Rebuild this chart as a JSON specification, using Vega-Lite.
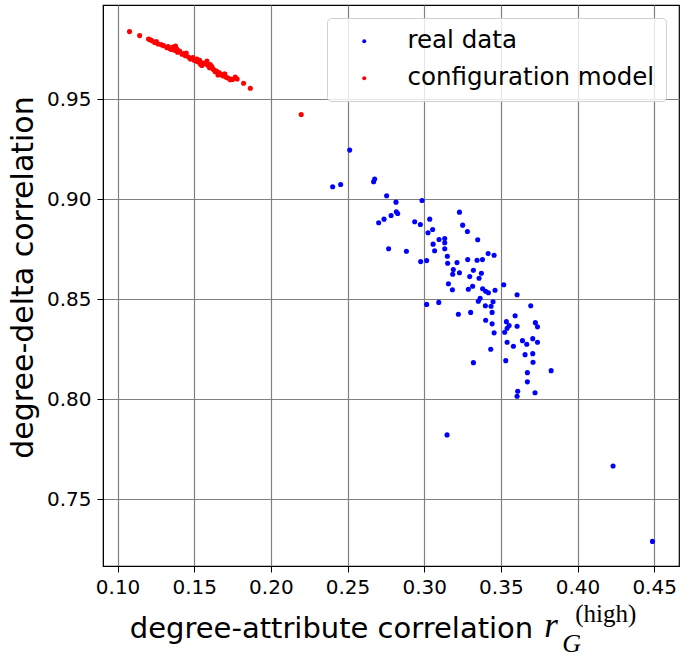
{
  "$schema": "https://vega.github.io/schema/vega-lite/v6.json",
  "width": 576,
  "height": 561,
  "autosize": {"type": "none"},
  "padding": {"left": 103, "top": 5, "right": 6, "bottom": 92},
  "background": "white",
  "config": {
    "view": {"stroke": "#000", "strokeWidth": 1.2},
    "font": "DejaVu Sans"
  },
  "datasets": {
    "points": [
      {"series": "real data", "x": 0.2514, "y": 0.9245},
      {"series": "real data", "x": 0.2403, "y": 0.9062},
      {"series": "real data", "x": 0.2455, "y": 0.9073},
      {"series": "real data", "x": 0.2670, "y": 0.9087},
      {"series": "real data", "x": 0.2677, "y": 0.9100},
      {"series": "real data", "x": 0.2755, "y": 0.9017},
      {"series": "real data", "x": 0.2816, "y": 0.8985},
      {"series": "real data", "x": 0.2986, "y": 0.8993},
      {"series": "real data", "x": 0.2703, "y": 0.8882},
      {"series": "real data", "x": 0.2738, "y": 0.8900},
      {"series": "real data", "x": 0.2784, "y": 0.8918},
      {"series": "real data", "x": 0.2818, "y": 0.8937},
      {"series": "real data", "x": 0.2827, "y": 0.8928},
      {"series": "real data", "x": 0.2938, "y": 0.8887},
      {"series": "real data", "x": 0.2975, "y": 0.8873},
      {"series": "real data", "x": 0.3025, "y": 0.8832},
      {"series": "real data", "x": 0.3036, "y": 0.8900},
      {"series": "real data", "x": 0.2768, "y": 0.8752},
      {"series": "real data", "x": 0.2884, "y": 0.8740},
      {"series": "real data", "x": 0.2977, "y": 0.8688},
      {"series": "real data", "x": 0.3016, "y": 0.8693},
      {"series": "real data", "x": 0.3055, "y": 0.8848},
      {"series": "real data", "x": 0.3230, "y": 0.8935},
      {"series": "real data", "x": 0.3251, "y": 0.8870},
      {"series": "real data", "x": 0.3282, "y": 0.8838},
      {"series": "real data", "x": 0.3097, "y": 0.8798},
      {"series": "real data", "x": 0.3134, "y": 0.8803},
      {"series": "real data", "x": 0.3134, "y": 0.8782},
      {"series": "real data", "x": 0.3058, "y": 0.8775},
      {"series": "real data", "x": 0.3068, "y": 0.8742},
      {"series": "real data", "x": 0.3134, "y": 0.8752},
      {"series": "real data", "x": 0.3349, "y": 0.8797},
      {"series": "real data", "x": 0.3151, "y": 0.8715},
      {"series": "real data", "x": 0.3153, "y": 0.8680},
      {"series": "real data", "x": 0.3214, "y": 0.8683},
      {"series": "real data", "x": 0.3284, "y": 0.8698},
      {"series": "real data", "x": 0.3345, "y": 0.8695},
      {"series": "real data", "x": 0.3380, "y": 0.8698},
      {"series": "real data", "x": 0.3417, "y": 0.8728},
      {"series": "real data", "x": 0.3456, "y": 0.8720},
      {"series": "real data", "x": 0.3190, "y": 0.8648},
      {"series": "real data", "x": 0.3186, "y": 0.8625},
      {"series": "real data", "x": 0.3230, "y": 0.8632},
      {"series": "real data", "x": 0.3321, "y": 0.8645},
      {"series": "real data", "x": 0.3373, "y": 0.8630},
      {"series": "real data", "x": 0.3297, "y": 0.8613},
      {"series": "real data", "x": 0.3358, "y": 0.8605},
      {"series": "real data", "x": 0.3158, "y": 0.8577},
      {"series": "real data", "x": 0.3184, "y": 0.8547},
      {"series": "real data", "x": 0.3288, "y": 0.8550},
      {"series": "real data", "x": 0.3316, "y": 0.8565},
      {"series": "real data", "x": 0.3381, "y": 0.8552},
      {"series": "real data", "x": 0.3401, "y": 0.8540},
      {"series": "real data", "x": 0.3419, "y": 0.8532},
      {"series": "real data", "x": 0.3462, "y": 0.8545},
      {"series": "real data", "x": 0.3519, "y": 0.8572},
      {"series": "real data", "x": 0.3606, "y": 0.8522},
      {"series": "real data", "x": 0.3365, "y": 0.8505},
      {"series": "real data", "x": 0.3353, "y": 0.8490},
      {"series": "real data", "x": 0.3449, "y": 0.8487},
      {"series": "real data", "x": 0.3399, "y": 0.8467},
      {"series": "real data", "x": 0.3436, "y": 0.8465},
      {"series": "real data", "x": 0.3016, "y": 0.8474},
      {"series": "real data", "x": 0.3095, "y": 0.8484},
      {"series": "real data", "x": 0.3695, "y": 0.8467},
      {"series": "real data", "x": 0.3223, "y": 0.8425},
      {"series": "real data", "x": 0.3303, "y": 0.8434},
      {"series": "real data", "x": 0.3443, "y": 0.8434},
      {"series": "real data", "x": 0.3401, "y": 0.8395},
      {"series": "real data", "x": 0.3593, "y": 0.8417},
      {"series": "real data", "x": 0.3443, "y": 0.8377},
      {"series": "real data", "x": 0.3536, "y": 0.8388},
      {"series": "real data", "x": 0.3554, "y": 0.8369},
      {"series": "real data", "x": 0.3541, "y": 0.8355},
      {"series": "real data", "x": 0.3606, "y": 0.8365},
      {"series": "real data", "x": 0.3725, "y": 0.8383},
      {"series": "real data", "x": 0.3739, "y": 0.8362},
      {"series": "real data", "x": 0.3525, "y": 0.8335},
      {"series": "real data", "x": 0.3456, "y": 0.8332},
      {"series": "real data", "x": 0.3541, "y": 0.8285},
      {"series": "real data", "x": 0.3582, "y": 0.8265},
      {"series": "real data", "x": 0.3641, "y": 0.8293},
      {"series": "real data", "x": 0.3669, "y": 0.8275},
      {"series": "real data", "x": 0.3708, "y": 0.8303},
      {"series": "real data", "x": 0.3739, "y": 0.8285},
      {"series": "real data", "x": 0.3434, "y": 0.8250},
      {"series": "real data", "x": 0.3658, "y": 0.8223},
      {"series": "real data", "x": 0.3708, "y": 0.8228},
      {"series": "real data", "x": 0.3321, "y": 0.8183},
      {"series": "real data", "x": 0.3532, "y": 0.8193},
      {"series": "real data", "x": 0.3710, "y": 0.8185},
      {"series": "real data", "x": 0.3828, "y": 0.8143},
      {"series": "real data", "x": 0.3673, "y": 0.8133},
      {"series": "real data", "x": 0.3673, "y": 0.8087},
      {"series": "real data", "x": 0.3610, "y": 0.8040},
      {"series": "real data", "x": 0.3606, "y": 0.8015},
      {"series": "real data", "x": 0.3723, "y": 0.8033},
      {"series": "real data", "x": 0.3149, "y": 0.7822},
      {"series": "real data", "x": 0.4232, "y": 0.7667},
      {"series": "real data", "x": 0.4489, "y": 0.7290},
      {"series": "configuration model", "x": 0.1078, "y": 0.9837},
      {"series": "configuration model", "x": 0.1144, "y": 0.9817},
      {"series": "configuration model", "x": 0.1202, "y": 0.9800},
      {"series": "configuration model", "x": 0.1224, "y": 0.9792},
      {"series": "configuration model", "x": 0.1210, "y": 0.9797},
      {"series": "configuration model", "x": 0.1242, "y": 0.9783},
      {"series": "configuration model", "x": 0.1253, "y": 0.9787},
      {"series": "configuration model", "x": 0.1264, "y": 0.9775},
      {"series": "configuration model", "x": 0.1285, "y": 0.9772},
      {"series": "configuration model", "x": 0.1300, "y": 0.9767},
      {"series": "configuration model", "x": 0.1322, "y": 0.9757},
      {"series": "configuration model", "x": 0.1330, "y": 0.9762},
      {"series": "configuration model", "x": 0.1344, "y": 0.9750},
      {"series": "configuration model", "x": 0.1355, "y": 0.9748},
      {"series": "configuration model", "x": 0.1361, "y": 0.9760},
      {"series": "configuration model", "x": 0.1372, "y": 0.9744},
      {"series": "configuration model", "x": 0.1378, "y": 0.9765},
      {"series": "configuration model", "x": 0.1387, "y": 0.9750},
      {"series": "configuration model", "x": 0.1391, "y": 0.9734},
      {"series": "configuration model", "x": 0.1405, "y": 0.9740},
      {"series": "configuration model", "x": 0.1420, "y": 0.9724},
      {"series": "configuration model", "x": 0.1430, "y": 0.9728},
      {"series": "configuration model", "x": 0.1442, "y": 0.9717},
      {"series": "configuration model", "x": 0.1448, "y": 0.9730},
      {"series": "configuration model", "x": 0.1463, "y": 0.9710},
      {"series": "configuration model", "x": 0.1475, "y": 0.9700},
      {"series": "configuration model", "x": 0.1481, "y": 0.9704},
      {"series": "configuration model", "x": 0.1492, "y": 0.9708},
      {"series": "configuration model", "x": 0.1500, "y": 0.9694},
      {"series": "configuration model", "x": 0.1510, "y": 0.9692},
      {"series": "configuration model", "x": 0.1518, "y": 0.9700},
      {"series": "configuration model", "x": 0.1522, "y": 0.9687},
      {"series": "configuration model", "x": 0.1535, "y": 0.9694},
      {"series": "configuration model", "x": 0.1540, "y": 0.9674},
      {"series": "configuration model", "x": 0.1545, "y": 0.9682},
      {"series": "configuration model", "x": 0.1550, "y": 0.9668},
      {"series": "configuration model", "x": 0.1561, "y": 0.9679},
      {"series": "configuration model", "x": 0.1570, "y": 0.9676},
      {"series": "configuration model", "x": 0.1583, "y": 0.9690},
      {"series": "configuration model", "x": 0.1587, "y": 0.9670},
      {"series": "configuration model", "x": 0.1595, "y": 0.9665},
      {"series": "configuration model", "x": 0.1600, "y": 0.9657},
      {"series": "configuration model", "x": 0.1605, "y": 0.9672},
      {"series": "configuration model", "x": 0.1615, "y": 0.9662},
      {"series": "configuration model", "x": 0.1622, "y": 0.9650},
      {"series": "configuration model", "x": 0.1630, "y": 0.9645},
      {"series": "configuration model", "x": 0.1637, "y": 0.9637},
      {"series": "configuration model", "x": 0.1645, "y": 0.9640},
      {"series": "configuration model", "x": 0.1655, "y": 0.9620},
      {"series": "configuration model", "x": 0.1659, "y": 0.9633},
      {"series": "configuration model", "x": 0.1665, "y": 0.9630},
      {"series": "configuration model", "x": 0.1681, "y": 0.9620},
      {"series": "configuration model", "x": 0.1690, "y": 0.9615},
      {"series": "configuration model", "x": 0.1696, "y": 0.9625},
      {"series": "configuration model", "x": 0.1700, "y": 0.9625},
      {"series": "configuration model", "x": 0.1709, "y": 0.9609},
      {"series": "configuration model", "x": 0.1720, "y": 0.9605},
      {"series": "configuration model", "x": 0.1735, "y": 0.9597},
      {"series": "configuration model", "x": 0.1740, "y": 0.9600},
      {"series": "configuration model", "x": 0.1750, "y": 0.9598},
      {"series": "configuration model", "x": 0.1768, "y": 0.9610},
      {"series": "configuration model", "x": 0.1780, "y": 0.9600},
      {"series": "configuration model", "x": 0.1822, "y": 0.9579},
      {"series": "configuration model", "x": 0.1866, "y": 0.9554},
      {"series": "configuration model", "x": 0.2198, "y": 0.9423}
    ]
  },
  "layer": [
    {
      "data": {"name": "points"},
      "mark": {"type": "circle", "size": 26, "opacity": 1},
      "encoding": {
        "x": {
          "field": "x",
          "type": "quantitative",
          "scale": {"domain": [0.0905, 0.4662], "nice": false, "zero": false},
          "axis": {
            "values": [0.1, 0.15, 0.2, 0.25, 0.3, 0.35, 0.4, 0.45],
            "format": ".2f",
            "title": "degree-attribute correlation",
            "titleFont": "DejaVu Sans",
            "titleFontSize": 29,
            "titleFontWeight": "normal",
            "titleColor": "#000",
            "titleX": 228,
            "titleY": 71,
            "titleAlign": "center",
            "titleBaseline": "alphabetic",
            "labelFont": "DejaVu Sans",
            "labelFontSize": 20,
            "labelColor": "#000",
            "labelPadding": 5,
            "labelFlush": false,
            "tickSize": 6,
            "tickColor": "#000",
            "tickWidth": 1,
            "domainColor": "#000",
            "grid": true,
            "gridColor": "#808080",
            "gridWidth": 1.2,
            "gridOpacity": 1
          }
        },
        "y": {
          "field": "y",
          "type": "quantitative",
          "scale": {"domain": [0.7167, 0.997], "nice": false, "zero": false},
          "axis": {
            "values": [0.75, 0.8, 0.85, 0.9, 0.95],
            "format": ".2f",
            "title": "degree-delta correlation",
            "titleFont": "DejaVu Sans",
            "titleFontSize": 30,
            "titleFontWeight": "normal",
            "titleColor": "#000",
            "titlePadding": 8,
            "titleY": 272,
            "labelFont": "DejaVu Sans",
            "labelFontSize": 20,
            "labelColor": "#000",
            "labelPadding": 6,
            "labelFlush": false,
            "tickSize": 6,
            "tickColor": "#000",
            "tickWidth": 1,
            "domainColor": "#000",
            "grid": true,
            "gridColor": "#808080",
            "gridWidth": 1.2,
            "gridOpacity": 1
          }
        },
        "color": {
          "field": "series",
          "type": "nominal",
          "scale": {"domain": ["real data", "configuration model"], "range": ["#0000ff", "#ff0000"]},
          "legend": {
            "title": null,
            "orient": "none",
            "legendX": 224,
            "legendY": 13,
            "labelFont": "DejaVu Sans",
            "labelFontSize": 24.5,
            "labelColor": "#000",
            "labelLimit": 0,
            "symbolType": "circle",
            "symbolSize": 16,
            "symbolOffset": 14,
            "labelOffset": 31,
            "rowPadding": 12,
            "padding": 11,
            "strokeColor": "#d0d0d0",
            "fillColor": "rgba(255,255,255,0.8)",
            "cornerRadius": 4
          }
        }
      }
    },
    {
      "data": {"values": [{}]},
      "mark": {"type": "text", "text": "r", "font": "Liberation Serif", "fontStyle": "italic", "fontSize": 35, "align": "left", "baseline": "alphabetic", "color": "#000"},
      "encoding": {
        "x": {"datum": 0.3783, "type": "quantitative"},
        "y": {"datum": 0.681, "type": "quantitative"}
      }
    },
    {
      "data": {"values": [{}]},
      "mark": {"type": "text", "text": "G", "font": "Liberation Serif", "fontStyle": "italic", "fontSize": 26, "align": "left", "baseline": "alphabetic", "color": "#000"},
      "encoding": {
        "x": {"datum": 0.3900, "type": "quantitative"},
        "y": {"datum": 0.6738, "type": "quantitative"}
      }
    },
    {
      "data": {"values": [{}]},
      "mark": {"type": "text", "text": "(high)", "font": "Liberation Serif", "fontSize": 25, "align": "left", "baseline": "alphabetic", "color": "#000"},
      "encoding": {
        "x": {"datum": 0.3985, "type": "quantitative"},
        "y": {"datum": 0.6885, "type": "quantitative"}
      }
    }
  ]
}
